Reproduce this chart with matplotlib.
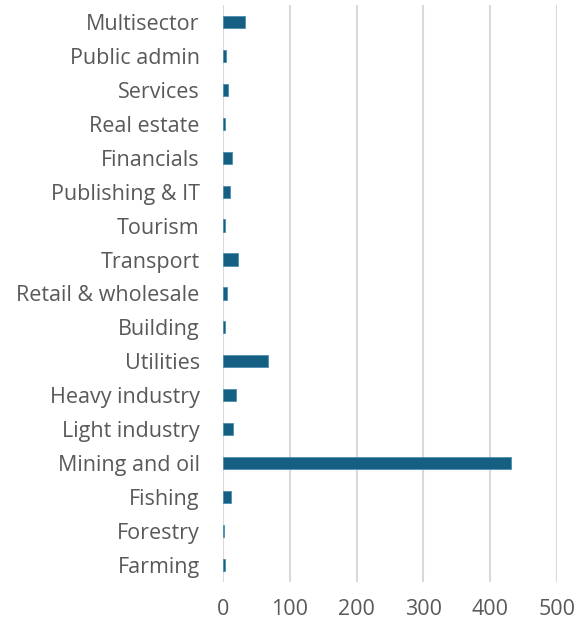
import matplotlib.pyplot as plt

sectors = ['Farming', 'Forestry', 'Fishing', 'Mining and oil', 'Light industry',
           'Heavy industry', 'Utilities', 'Building', 'Retail & wholesale',
           'Transport', 'Tourism', 'Publishing & IT', 'Financials',
           'Real estate', 'Services', 'Public admin', 'Multisector']
values = [2, 1, 11, 431, 14.5, 19.5, 67.5, 3, 6, 22, 3, 10, 13.5, 3, 6.5, 3.5, 32.5]

plt.rcParams['font.family'] = ['Open Sans', 'DejaVu Sans']

fig = plt.figure(figsize=(5.8, 6.27), dpi=100)
ax = fig.add_axes([0.385, 0.072, 0.575, 0.92])
ax.barh(sectors, values, height=0.36, color='#156082', edgecolor='#4d8fb0', linewidth=0.6, zorder=3)
ax.set_xlim(0, 500)
ax.set_ylim(-0.5, len(sectors) - 0.5)
ax.set_xticks(range(0, 501, 100))
ax.grid(axis='x', color='#d9d9d9', linewidth=1.5, zorder=0)
for s in ax.spines.values():
    s.set_visible(False)
ax.tick_params(length=0, labelsize=15.5, colors='#595959')
ax.tick_params(axis='y', pad=17)
ax.tick_params(axis='x', pad=12)
fig.savefig('out.png')
